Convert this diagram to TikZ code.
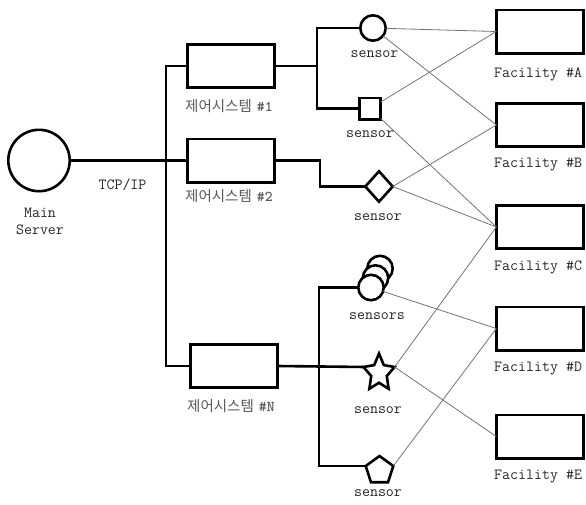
\documentclass[tikz,border=0pt]{standalone}
\usepackage{fontspec}
\newfontfamily\krfont{Noto Sans CJK KR}
\usetikzlibrary{shapes.geometric}
\begin{document}
\begin{tikzpicture}[x=1pt,y=-1pt,
  thickln/.style={line width=2.6pt},
  thinln/.style={line width=0.8pt, draw=black!55},
  ctlbox/.style={draw, line width=2.6pt, minimum width=87.4pt, minimum height=43.4pt, inner sep=0pt, outer sep=0pt},
  facbox/.style={draw, line width=2.6pt, minimum width=87.4pt, minimum height=43.4pt, inner sep=0pt, outer sep=0pt},
  sens/.style={draw, line width=2.6pt, fill=white, inner sep=0pt, outer sep=0pt},
  mono/.style={inner sep=0pt, font=\ttfamily\fontsize{15.5}{17}\selectfont, text=black!85},
  krlbl/.style={inner sep=0pt, anchor=base west, font=\krfont\fontsize{14.5}{16}\selectfont, text=black!65}
]
\useasboundingbox (0,0) rectangle (586,504);

% main server
\node[sens, circle, minimum size=61.4pt] (ms) at (39,160.5) {};
\node[mono, anchor=base] (mslbl) at (40,217) {Main};
\node[mono, anchor=base] (mslbl2) at (40,234) {Server};
\node[mono, anchor=base] (tcp) at (122.5,189) {TCP/IP};

% control boxes
\node[ctlbox] (box1) at (231,66) {};
\node[ctlbox] (box2) at (231,160.5) {};
\node[ctlbox] (boxN) at (234,366) {};
\node[krlbl] (l1) at (185,111) {제어시스템\hspace{5pt}{\ttfamily\bfseries\fontsize{15}{16}\selectfont\#1}};
\node[krlbl] (l2) at (185,201) {제어시스템\hspace{5pt}{\ttfamily\bfseries\fontsize{15}{16}\selectfont\#2}};
\node[krlbl] (lN) at (187,411) {제어시스템\hspace{5pt}{\ttfamily\bfseries\fontsize{15}{16}\selectfont\#N}};

% bus
\coordinate (busT) at (166,66);
\coordinate (busB) at (166,366);
\draw[thickln] (box1.west) -- (busT) -- (busB) -- (boxN.west);
\draw[thickln] (ms.east) -- (box2.west);

% sensors
\node[sens, circle, minimum size=25.4pt] (cs) at (373,28) {};
\node[sens, rectangle, minimum size=21.4pt] (sq) at (370,108.5) {};
\node[sens, diamond, minimum width=27.4pt, minimum height=30.4pt] (dm) at (379,186.5) {};
\node[sens, circle, minimum size=25.4pt] (s3) at (380,268.5) {};
\node[sens, circle, minimum size=25.4pt] (s2) at (375.5,278) {};
\node[sens, circle, minimum size=25.4pt] (s1) at (371,287.5) {};
\begin{scope}[shift={(379,373)}]
\node[sens, star, star points=5, star point ratio=2.0, minimum size=39pt, xscale=0.84, transform shape] (st) at (0,0) {};
\end{scope}
\node[sens, regular polygon, regular polygon sides=5, minimum size=29pt] (pg) at (379.5,470.5) {};

\node[mono, anchor=base] (t1) at (374.5,57) {sensor};
\node[mono, anchor=base] (t2) at (370,137) {sensor};
\node[mono, anchor=base] (t3) at (378,220) {sensor};
\node[mono, anchor=base] (t4) at (377,319) {sensors};
\node[mono, anchor=base] (t5) at (378,413) {sensor};
\node[mono, anchor=base] (t6) at (378,496) {sensor};

% branches
\coordinate (b1j) at (317,66);
\coordinate (b2j) at (320,160.5);
\coordinate (bNj) at (319,366);
\draw[thickln] (box1.east) -- (b1j);
\draw[thickln] (cs.west) -| (b1j) |- (sq.west);
\draw[thickln] (box2.east) -| (b2j) |- (dm.west);
\draw[thickln] (boxN.east) -- (st.outer point 2);
\draw[thickln] (s1.west) -| (bNj) |- (pg.corner 2);

% facilities
\node[facbox] (fa) at (540,31.5) {};
\node[facbox] (fb) at (540,125) {};
\node[facbox] (fc) at (540,227) {};
\node[facbox] (fd) at (540,328.5) {};
\node[facbox] (fe) at (540,436.5) {};
\node[mono, anchor=base west] (la) at (494,77) {Facility \#A};
\node[mono, anchor=base west] (lb) at (494,167) {Facility \#B};
\node[mono, anchor=base west] (lc) at (494,270) {Facility \#C};
\node[mono, anchor=base west] (ld) at (494,371) {Facility \#D};
\node[mono, anchor=base west] (le) at (494,479) {Facility \#E};

% thin connectors
\draw[thinln] (cs) -- (fa.west);
\draw[thinln] (cs) -- (fb.west);
\draw[thinln] (sq) -- (fa.west);
\draw[thinln] (sq) -- (fc.west);
\draw[thinln] (dm.east) -- (fb.west);
\draw[thinln] (dm.east) -- (fc.west);
\draw[thinln] (s1) -- (fd.west);
\draw[thinln] (st.outer point 5) -- (fc.west);
\draw[thinln] (st.outer point 5) -- (fe.west);
\draw[thinln] (pg.corner 5) -- (fd.west);
\end{tikzpicture}
\end{document}
